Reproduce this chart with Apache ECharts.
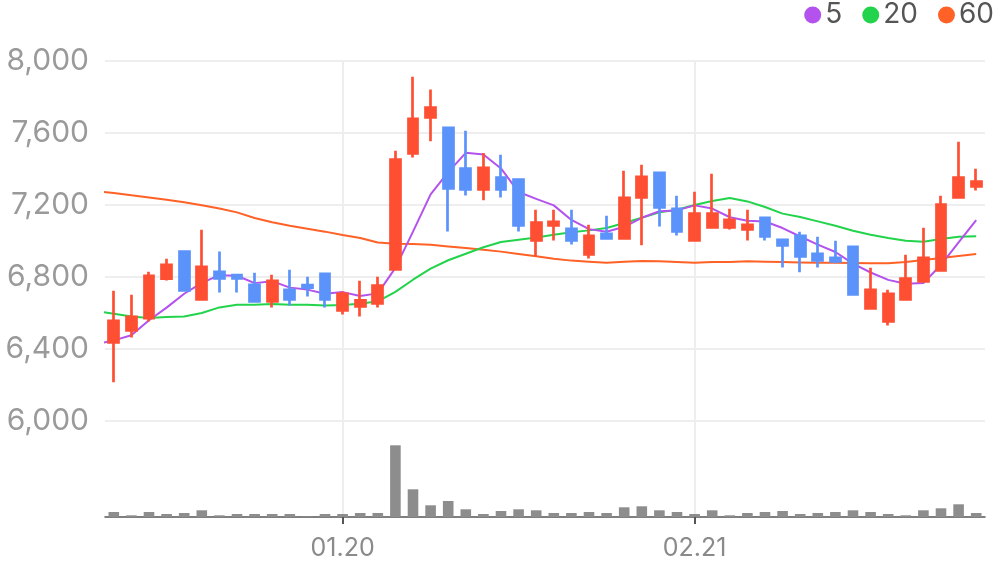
<!DOCTYPE html>
<html>
<head>
<meta charset="utf-8">
<script src="https://cdn.jsdelivr.net/npm/echarts@6/dist/echarts.min.js"></script>
<style>
html,body{margin:0;padding:0;background:#fff;}
#chart{width:996px;height:567px;}
</style>
</head>
<body>
<div id="chart"></div>
<script>
// Category 0 is a hidden lead-in day (only the moving-average lines use it, clipped at the left edge)
var dates = ['12.27','12.30','01.02','01.03','01.06','01.07','01.08','01.09','01.10','01.13','01.14','01.15','01.16','01.17','01.20','01.21','01.22','01.23','01.24','01.31','02.03','02.04','02.05','02.06','02.07','02.10','02.11','02.12','02.13','02.14','02.17','02.18','02.19','02.20','02.21','02.24','02.25','02.26','02.27','02.28','03.04','03.05','03.06','03.07','03.10','03.11','03.12','03.13','03.14','03.17','03.18'];

var openPrices  = [null,6437,6503,6572,6791,6941,6676,6829,6811,6757,6664,6729,6755,6818,6615,6637,6653,6842,7487,7687,7629,7402,7287,7352,7341,7003,7087,7068,6926,7040,7014,7242,7379,7179,7003,7076,7076,7064,7129,7007,7029,6929,6907,6968,6626,6553,6676,6776,6837,7242,7304];
var closePrices = [null,6557,6579,6807,6868,6726,6857,6792,6792,6664,6779,6676,6741,6676,6707,6670,6752,7452,7679,7741,7292,7287,7407,7287,7087,7102,7107,7003,7029,7014,7240,7357,7187,7053,7152,7152,7118,7090,7026,6976,6914,6892,6887,6703,6729,6707,6791,6907,7202,7352,7330];
var lowPrices   = [null,6215,6464,6553,6781,6726,6676,6714,6714,6664,6631,6642,6691,6631,6592,6581,6631,6842,7464,7554,7053,7253,7226,7242,7053,6914,7003,6981,6903,7014,7014,6976,7081,7031,7003,7076,7064,7003,7003,6853,6826,6853,6876,6703,6626,6531,6676,6776,6837,7242,7281];
var highPrices  = [null,6724,6702,6829,6902,6941,7063,6941,6811,6824,6813,6840,6802,6818,6720,6779,6802,7502,7913,7841,7629,7613,7489,7479,7341,7174,7174,7174,7090,7140,7390,7424,7379,7252,7274,7374,7179,7174,7129,7007,7052,7024,7002,6968,6852,6729,6924,7074,7252,7552,7402];

var ma5  = [6426,6448,6476,6560,6630,6707,6767,6810,6807,6766,6777,6741,6730,6707,6716,6694,6709,6851,7052,7259,7383,7490,7481,7403,7272,7234,7198,7117,7066,7051,7079,7129,7165,7170,7198,7180,7132,7113,7108,7072,7025,6980,6939,6874,6825,6784,6763,6767,6867,6992,7116];
var ma20 = [6610,6596,6581,6572,6578,6580,6600,6631,6646,6646,6650,6646,6646,6642,6644,6652,6665,6717,6785,6846,6893,6929,6965,6994,7007,7020,7035,7048,7059,7072,7100,7129,7159,7174,7200,7222,7239,7220,7189,7152,7133,7109,7085,7057,7035,7017,7002,6996,7011,7024,7026];
var ma60 = [7277,7267,7254,7242,7229,7215,7198,7181,7159,7128,7104,7085,7068,7052,7033,7017,6992,6985,6983,6979,6970,6961,6952,6941,6928,6915,6902,6891,6885,6879,6885,6889,6887,6883,6879,6883,6884,6887,6885,6883,6881,6879,6879,6878,6876,6876,6883,6894,6905,6917,6928];

var volume = [null,50,17,50,30,40,67,17,30,30,30,30,7,30,30,40,40,717,277,117,160,77,30,60,77,67,40,40,50,40,97,107,67,50,30,67,17,40,50,60,30,40,50,67,50,30,17,67,87,127,40];

var yTicks = [6000, 8000, 400];
var labelDates = ['01.20', '02.21'];

var FONT = 'Inter, Roboto, sans-serif';
var RED = '#FF4F33', BLUE = '#5B93FB';

var candles = dates.map(function (d, i) {
  if (openPrices[i] == null) return '-';
  return [openPrices[i], closePrices[i], lowPrices[i], highPrices[i]];
});
var vols = volume.map(function (v) { return v == null ? '-' : v; });
function showIdx(i) { return labelDates.indexOf(dates[i]) >= 0; }

var chart = echarts.init(document.getElementById('chart'), null, {renderer: 'canvas'});
chart.setOption({
  animation: false,
  textStyle: {fontFamily: FONT},
  legend: {
    data: ['5', '20', '60'],
    right: 2, top: 1, padding: 0,
    icon: 'circle', itemWidth: 17, itemHeight: 17, itemGap: 20,
    textStyle: {fontSize: 28, color: '#555', fontFamily: FONT, padding: [0, 0, 0, -1]}
  },
  grid: [
    {left: 105, right: 11, top: 61, height: 360},
    {left: 105, right: 11, top: 445, height: 72},
    {left: 105, right: 11, top: 61, height: 456}
  ],
  xAxis: [
    {type: 'category', gridIndex: 0, data: dates, min: 1, boundaryGap: true,
     axisLine: {show: false}, axisTick: {show: false}, axisLabel: {show: false}, splitLine: {show: false}},
    {type: 'category', gridIndex: 1, data: dates, min: 1, boundaryGap: true,
     axisLine: {show: true, lineStyle: {color: '#555', width: 1.5}},
     axisTick: {show: true, alignWithLabel: true, length: 7, interval: function (i) { return showIdx(i); }, lineStyle: {color: '#555', width: 2}},
     axisLabel: {show: true, interval: function (i) { return showIdx(i); }, fontSize: 25, color: '#8a8a8a', margin: 19, fontFamily: FONT},
     splitLine: {show: false}},
    {type: 'category', gridIndex: 2, data: dates, min: 1, boundaryGap: true,
     axisLine: {show: false}, axisTick: {show: false}, axisLabel: {show: false},
     splitLine: {show: true, alignWithLabel: true, interval: function (i) { return showIdx(i); }, lineStyle: {color: '#eeeeee', width: 2}}}
  ],
  yAxis: [
    {type: 'value', gridIndex: 0, min: yTicks[0], max: yTicks[1], interval: yTicks[2],
     axisLine: {show: false}, axisTick: {show: false},
     axisLabel: {fontSize: 30, color: '#9a9a9a', margin: 16, fontFamily: FONT, verticalAlign: 'middle', padding: [4, 0, 0, 0],
       formatter: function (v) { return v.toLocaleString('en-US'); }},
     splitLine: {show: true, lineStyle: {color: '#eeeeee', width: 2}}},
    {type: 'value', gridIndex: 1, min: 0, max: 720, show: false, splitLine: {show: false}},
    {type: 'value', gridIndex: 2, min: 0, max: 1, show: false, splitLine: {show: false}}
  ],
  series: [
    {name: '60', type: 'line', xAxisIndex: 0, yAxisIndex: 0, data: ma60, symbol: 'none', z: 2,
     lineStyle: {color: '#FF6126', width: 2}, itemStyle: {color: '#FF6126'}},
    {name: '20', type: 'line', xAxisIndex: 0, yAxisIndex: 0, data: ma20, symbol: 'none', z: 2,
     lineStyle: {color: '#22D34B', width: 2}, itemStyle: {color: '#22D34B'}},
    {name: '5', type: 'line', xAxisIndex: 0, yAxisIndex: 0, data: ma5, symbol: 'none', z: 2,
     lineStyle: {color: '#B452EE', width: 2}, itemStyle: {color: '#B452EE'}},
    {name: 'K', type: 'candlestick', xAxisIndex: 0, yAxisIndex: 0, data: candles, z: 3,
     barWidth: 10.3,
     itemStyle: {color: RED, color0: BLUE, borderColor: RED, borderColor0: BLUE, borderWidth: 2.7}},
    {name: 'Vol', type: 'bar', xAxisIndex: 1, yAxisIndex: 1, data: vols, barWidth: 10.6,
     itemStyle: {color: '#8D8D8D'}}
  ]
});
</script>
</body>
</html>
